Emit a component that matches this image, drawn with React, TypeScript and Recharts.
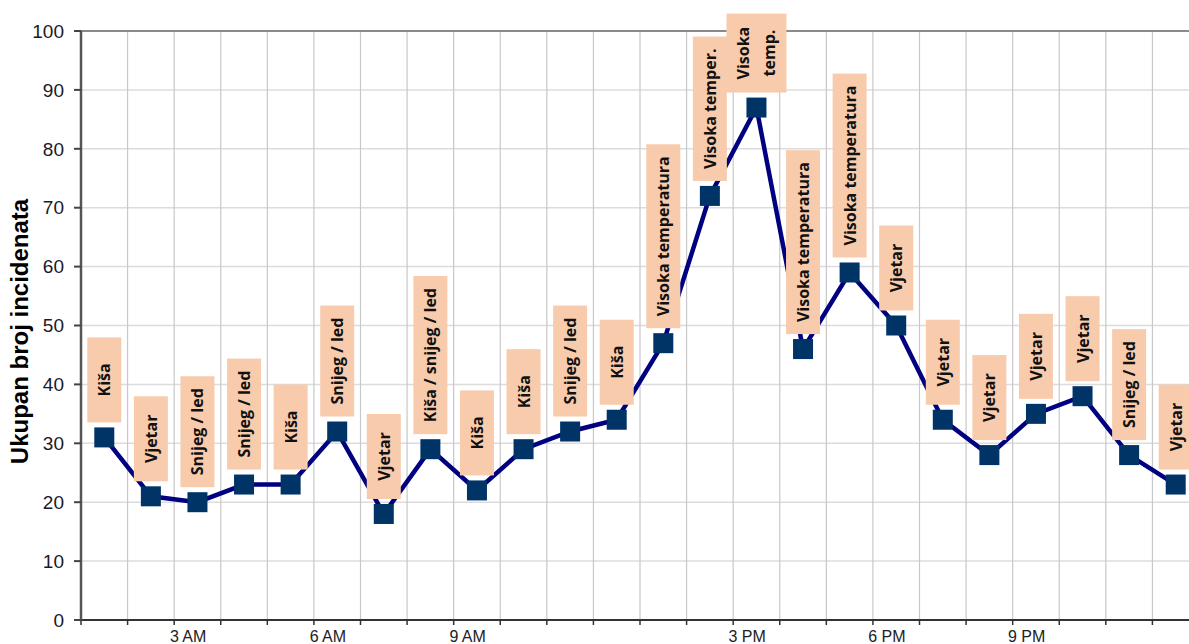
import { CartesianGrid, Label, LabelList, Line, LineChart, ReferenceLine, XAxis, YAxis } from "recharts";

// hourly slots, one point per slot
const slots = [0, 1, 2, 3, 4, 5, 6, 7, 8, 9, 10, 11, 12, 13, 14, 15, 16, 17, 18, 19, 20, 21, 22, 23];
const incidents = [31, 21, 20, 23, 23, 32, 18, 29, 22, 29, 32, 34, 47, 72, 87, 46, 59, 50, 34, 28, 35, 38, 28, 23];
const causes = [
  "Kiša", "Vjetar", "Snijeg / led", "Snijeg / led", "Kiša", "Snijeg / led",
  "Vjetar", "Kiša / snijeg / led", "Kiša", "Kiša", "Snijeg / led", "Kiša",
  "Visoka temperatura", "Visoka temper.", "Visoka\ntemp.", "Visoka temperatura", "Visoka temperatura", "Vjetar",
  "Vjetar", "Vjetar", "Vjetar", "Vjetar", "Snijeg / led", "Vjetar",
];

const gridTicks = [-0.5, 0.5, 1.5, 2.5, 3.5, 4.5, 5.5, 6.5, 7.5, 8.5, 9.5, 10.5, 11.5, 12.5, 13.5, 14.5, 15.5, 16.5, 17.5, 18.5, 19.5, 20.5, 21.5, 22.5, 23.5];
const timeTicks = [1.5, 4.5, 7.5, 13.5, 16.5, 19.5];
const timeLabels = ["3 AM", "6 AM", "9 AM", "3 PM", "6 PM", "9 PM"];
const yTicks = [0, 10, 20, 30, 40, 50, 60, 70, 80, 90, 100];

const data = slots.map((s, i) => ({ slot: s, value: incidents[i], cause: causes[i] }));

const W = 1210;
const H = 644;
const BAND = (W - 81 - 11) / 24;
const LABEL_FONT = "700 16px 'Open Sans'";

let ctx: CanvasRenderingContext2D | null = null;
function measure(s: string) {
  if (!ctx) ctx = document.createElement("canvas").getContext("2d");
  if (!ctx) return s.length * 8.5;
  ctx.font = LABEL_FONT;
  return ctx.measureText(s).width;
}

function CauseLabel(props: any) {
  const { x, y, value } = props;
  if (x == null || y == null || value == null) return <g />;
  const lines = String(value).split("\n");
  const longest = Math.max(...lines.map((l) => measure(l)));
  const h = Math.max(lines.length > 1 ? 79 : 85, longest + 24);
  const step = 26;
  const w = 34 + (lines.length - 1) * step;
  const bottom = y - 15;
  const cy = bottom - h / 2;
  return (
    <g>
      <rect x={x - w / 2} y={bottom - h} width={w} height={h} fill="#f8cbad" />
      {lines.map((l, i) => {
        const lx = x - ((lines.length - 1) * step) / 2 + i * step;
        return (
          <text
            key={i}
            x={lx}
            y={cy}
            transform={`rotate(-90 ${lx} ${cy})`}
            textAnchor="middle"
            dominantBaseline="central"
            fontFamily="'Open Sans', sans-serif"
            fontWeight={700}
            fontSize={16}
            fill="#111"
          >
            {l}
          </text>
        );
      })}
    </g>
  );
}

function SquareDot(props: any) {
  const { cx, cy, index } = props;
  if (cx == null || cy == null) return <g key={index} />;
  return <rect key={index} x={cx - 10} y={cy - 10} width={20} height={20} fill="#003366" />;
}

function TimeTick(props: any) {
  const { x, y, payload } = props;
  const i = timeTicks.indexOf(payload.value);
  if (i < 0) return <g />;
  return (
    <text x={x + BAND * 0.3} y={y} dy="0.71em" textAnchor="middle" fontSize={16} fill="#222" fontFamily="'Liberation Sans', Arial, sans-serif">
      {timeLabels[i]}
    </text>
  );
}

function AxisTitle(props: any) {
  const vb = props.viewBox || { x: 0, y: 31, width: 81, height: 589 };
  const x = vb.x + 28;
  const y = vb.y + vb.height / 2 + 6;
  return (
    <text x={x} y={y} transform={`rotate(-90 ${x} ${y})`} textAnchor="middle" fontSize={24} fontWeight="bold" fill="#000" fontFamily="'Liberation Sans', Arial, sans-serif">
      Ukupan broj incidenata
    </text>
  );
}

export default function App() {
  return (
    <div style={{ position: "absolute", left: 0, top: 0, width: 1189, height: 644, overflow: "hidden", background: "#fff" }}>
      <LineChart width={W} height={H} data={data} margin={{ top: 31, right: 11, left: 0, bottom: 0 }}>
        <CartesianGrid vertical={false} stroke="#dcdcdc" strokeWidth={1.5} />
        <CartesianGrid horizontal={false} stroke="#c8c8c8" strokeWidth={1.2} />
        <ReferenceLine y={100} stroke="#8a8a8a" strokeWidth={2} />
        <XAxis
          dataKey="slot"
          type="number"
          domain={[-0.5, 23.5]}
          ticks={gridTicks}
          interval={0}
          height={24}
          tickSize={5}
          tickMargin={6}
          axisLine={{ stroke: "#333", strokeWidth: 2 }}
          tickLine={{ stroke: "#333", strokeWidth: 1.5 }}
          tick={<TimeTick />}
        />
        <YAxis
          type="number"
          domain={[0, 100]}
          ticks={yTicks}
          interval={0}
          width={81}
          tickSize={7}
          tickMargin={10}
          axisLine={{ stroke: "#555", strokeWidth: 2.5 }}
          tickLine={{ stroke: "#444", strokeWidth: 2 }}
          tick={{ fontSize: 19, fill: "#1a1a2a", fontFamily: "'Liberation Sans', Arial, sans-serif" }}
        >
          <Label content={<AxisTitle />} />
        </YAxis>
        <Line
          dataKey="value"
          type="linear"
          stroke="#000080"
          strokeWidth={4.5}
          dot={<SquareDot />}
          activeDot={false}
          isAnimationActive={false}
        >
          <LabelList dataKey="cause" content={<CauseLabel />} />
        </Line>
      </LineChart>
    </div>
  );
}
